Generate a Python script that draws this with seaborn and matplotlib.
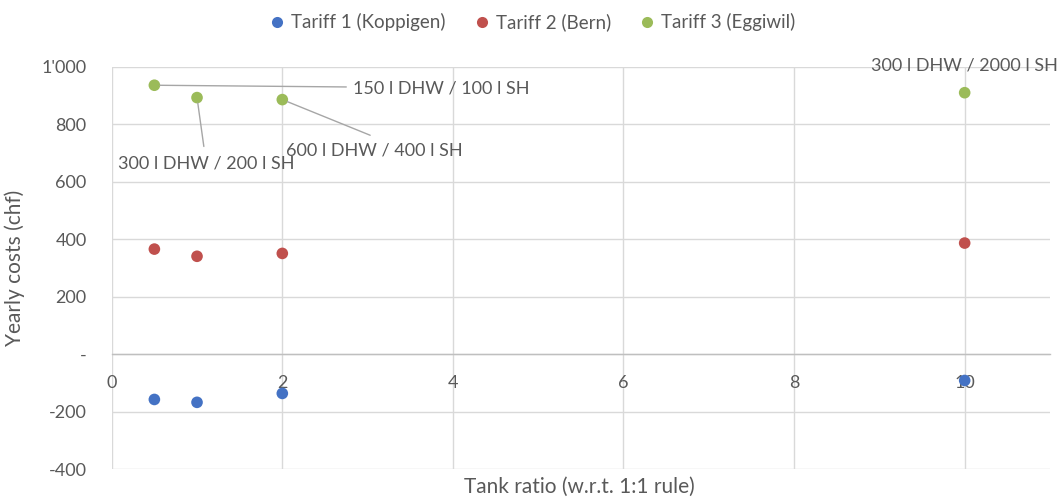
import pandas as pd
import numpy as np
import matplotlib
matplotlib.use('Agg')
import matplotlib.pyplot as plt
import seaborn as sns
from matplotlib.ticker import FuncFormatter
from matplotlib.lines import Line2D

# values
tank_ratio = [0.5, 1, 2, 10]
tariff1 = [-157, -167, -136, -91]
tariff2 = [366, 341, 351, 387]
tariff3 = [936, 893, 886, 910]
series_names = ['Tariff 1 (Koppigen)', 'Tariff 2 (Bern)', 'Tariff 3 (Eggiwil)']
point_labels = ['150 l DHW / 100 l SH', '300 l DHW / 200 l SH',
                '600 l DHW / 400 l SH', '300 l DHW / 2000 l SH']
colors = ['#4472C4', '#C0504D', '#9BBB59']

df = pd.DataFrame({
    'ratio': tank_ratio * 3,
    'cost': tariff1 + tariff2 + tariff3,
    'tariff': [n for n in series_names for _ in tank_ratio],
})

sns.set_style('white')
plt.rcParams['font.family'] = ['Lato', 'DejaVu Sans']
txt = '#595959'
grid = '#D9D9D9'

fig = plt.figure(figsize=(10.61, 4.98), dpi=100)
ax = fig.add_axes([0.1053, 0.0576, 0.8843, 0.8082])

sns.scatterplot(data=df, x='ratio', y='cost', hue='tariff', palette=colors,
                s=70, linewidth=0, ax=ax, legend=False, zorder=3)

ax.set_xlim(0, 11)
ax.set_ylim(-400, 1000)
ax.set_xticks([0, 2, 4, 6, 8, 10])
ax.set_yticks(np.arange(-400, 1001, 200))

def yfmt(v, pos):
    if v == 0:
        return '-'
    if abs(v) >= 1000:
        return f"{int(v) // 1000}'{abs(int(v)) % 1000:03d}"
    return f'{int(v)}'

ax.yaxis.set_major_formatter(FuncFormatter(yfmt))
ax.grid(True, color=grid, lw=1)
ax.set_axisbelow(True)
for sp in ['top', 'right', 'left']:
    ax.spines[sp].set_visible(False)
ax.spines['bottom'].set_position(('data', 0))
ax.spines['bottom'].set_color('#BFBFBF')
ax.spines['bottom'].set_linewidth(1)
ax.tick_params(axis='both', length=0, labelsize=13, colors=txt)
ax.tick_params(axis='y', pad=18)
ax.tick_params(axis='x', pad=15)

ax.set_xlabel('')
ax.set_ylabel('Yearly costs (chf)', fontsize=15, color=txt, labelpad=12)
fig.text(0.546, 0.022, 'Tank ratio (w.r.t. 1:1 rule)', ha='center', va='center',
         fontsize=15, color=txt)

# data labels with leader lines (green series)
lead = dict(arrowstyle='-', color='#A6A6A6', lw=1, shrinkA=0, shrinkB=4)
ax.annotate(point_labels[0], xy=(tank_ratio[0], tariff3[0]), xytext=(2.83, 924),
            ha='left', va='center', fontsize=13, color=txt)
ax.annotate('', xy=(tank_ratio[0], tariff3[0]), xytext=(2.75, 930), arrowprops=lead)
ax.annotate(point_labels[1], xy=(tank_ratio[1], tariff3[1]), xytext=(0.07, 663),
            ha='left', va='center', fontsize=13, color=txt)
ax.annotate('', xy=(tank_ratio[1], tariff3[1]), xytext=(1.08, 723), arrowprops=lead)
ax.annotate(point_labels[2], xy=(tank_ratio[2], tariff3[2]), xytext=(2.04, 709),
            ha='left', va='center', fontsize=13, color=txt)
ax.annotate('', xy=(tank_ratio[2], tariff3[2]), xytext=(3.03, 762), arrowprops=lead)
ax.annotate(point_labels[3], xy=(tank_ratio[3], tariff3[3]), xytext=(tank_ratio[3], 1006),
            ha='center', va='center', fontsize=13, color=txt, annotation_clip=False)

handles = [Line2D([], [], marker='o', ls='', color=c, markersize=8, markeredgewidth=0)
           for c in colors]
fig.legend(handles, series_names, loc='center', bbox_to_anchor=(0.503, 0.955), ncol=3,
           frameon=False, fontsize=13.5, labelcolor=txt, handlelength=0.6,
           handletextpad=0.45, columnspacing=1.62)

fig.savefig('out.png', dpi=100)
